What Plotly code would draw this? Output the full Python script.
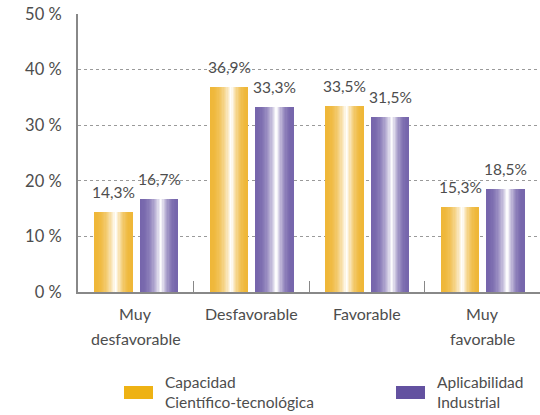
import plotly.graph_objects as go

categories = ["Muy\ndesfavorable", "Desfavorable", "Favorable", "Muy\nfavorable"]
series_names = ["Capacidad\nCientífico-tecnológica", "Aplicabilidad\nIndustrial"]
capacidad = [14.3, 36.9, 33.5, 15.3]
aplicabilidad = [16.7, 33.3, 31.5, 18.5]
y_ticks = [0, 10, 20, 30, 40, 50]
y_tick_labels = ["0 %", "10 %", "20 %", "30 %", "40 %", "50 %"]

W, H = 540, 415
ML, MR, MT, MB = 78, 0, 14, 123
PW, PH = W - ML - MR, H - MT - MB

FONT = "Lato, 'Open Sans', sans-serif"
TXT = "#4d4d4d"

def px2paper(x, y):
    return (x - ML) / PW, (H - MB - y) / PH

def mix(c, t):
    return tuple(round(c[i] + (255 - c[i]) * t) for i in range(3))

series = [
    dict(vals=capacidad, dark=(238, 180, 48), legend=(238, 178, 20), offset=-0.353),
    dict(vals=aplicabilidad, dark=(112, 95, 168), legend=(99, 81, 160), offset=0.04),
]
BW = 0.325
K = 30

fig = go.Figure()
x_idx = list(range(len(categories)))
for s in series:
    for k in range(K):
        t = (k + 0.5) / K
        peak = 0.56
        d = (peak - t) / peak if t < peak else (t - peak) / (1 - peak)
        m = max(0.0, 1 - d) ** 2.2 * 0.98 + 0.04
        c = mix(s["dark"], min(m, 1.0))
        fig.add_trace(go.Bar(
            x=x_idx, y=s["vals"],
            width=BW / K * 1.1,
            offset=s["offset"] + k * BW / K,
            marker=dict(color="rgb(%d,%d,%d)" % c, line=dict(width=0)),
            showlegend=False, hoverinfo="skip",
        ))

annotations = []
# value labels
for s in series:
    for i, v in enumerate(s["vals"]):
        annotations.append(dict(
            x=i + s["offset"] + BW / 2, y=v, xref="x", yref="y",
            text=("%.1f" % v).replace(".", ",") + "%",
            showarrow=False, yanchor="middle", yshift=20,
            font=dict(family=FONT, size=15.5, color=TXT),
        ))
# category labels
for i, lab in enumerate(categories):
    for j, line in enumerate(lab.split("\n")):
        annotations.append(dict(
            x=i, y=0, xref="x", yref="y", text=line, showarrow=False,
            yanchor="middle", yshift=-(21 + j * 25),
            font=dict(family=FONT, size=16, color=TXT),
        ))

shapes = []
legend_pos = [(124, 386), (396, 386)]
for s, name, (lx, ly) in zip(series, series_names, legend_pos):
    x0, y0 = px2paper(lx, ly + 13)
    x1, y1 = px2paper(lx + 29, ly)
    shapes.append(dict(type="rect", xref="paper", yref="paper", x0=x0, x1=x1, y0=y0, y1=y1,
                       fillcolor="rgb(%d,%d,%d)" % s["legend"], line=dict(width=0)))
    tx, ty = px2paper(lx + 39, ly + 6)
    annotations.append(dict(
        x=tx, y=ty, xref="paper", yref="paper", text=name.replace("\n", "<br>"),
        showarrow=False, xanchor="left", yanchor="middle", align="left",
        font=dict(family=FONT, size=15.5, color=TXT),
    ))

fig.update_layout(
    width=W, height=H, margin=dict(l=ML, r=MR, t=MT, b=MB),
    barmode="overlay", bargap=0,
    plot_bgcolor="white", paper_bgcolor="white",
    annotations=annotations, shapes=shapes,
    showlegend=False,
    xaxis=dict(
        type="linear", range=[-0.5, 3.5], showgrid=False, zeroline=False,
        tickvals=[0.5, 1.5, 2.5], ticks="inside", ticklen=11, tickcolor="#888888",
        showticklabels=False, showline=True, linecolor="#888888", linewidth=2,
    ),
    yaxis=dict(
        range=[0, 50], tickmode="array", tickvals=y_ticks, ticktext=y_tick_labels,
        showgrid=True, gridcolor="#9a9a9a", griddash="dot", gridwidth=1,
        zeroline=False, showline=True, linecolor="#888888", linewidth=2,
        ticks="", ticklabelstandoff=11,
        tickfont=dict(family=FONT, size=16.5, color=TXT),
    ),
)

fig.write_html("out.html")
